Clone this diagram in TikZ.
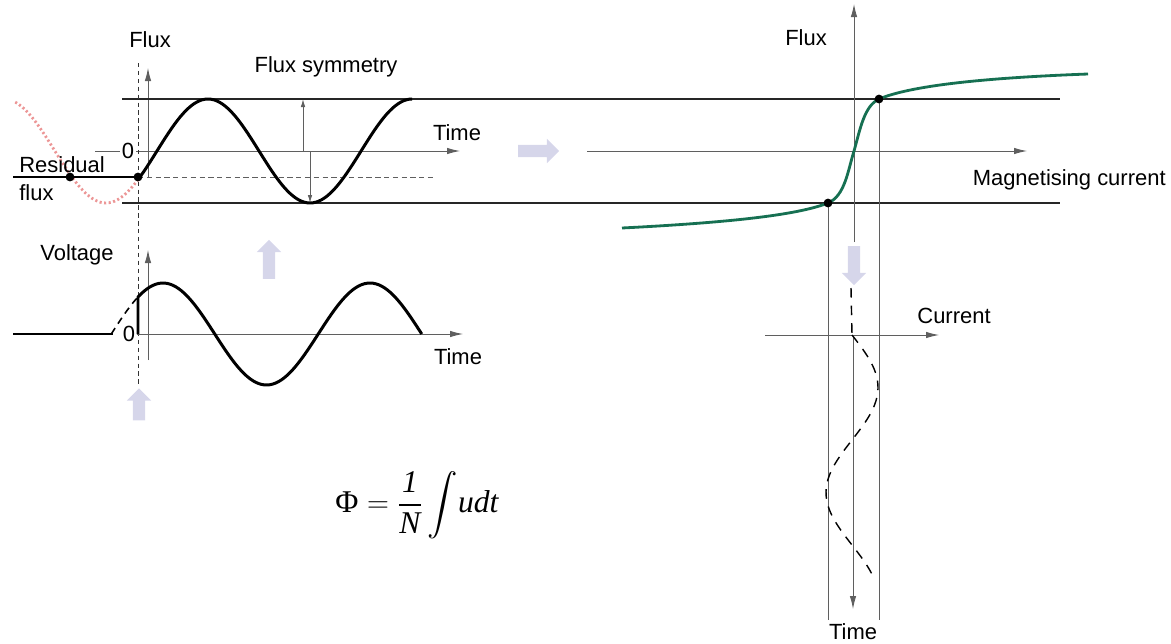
\documentclass[tikz,border=0pt]{standalone}
\usepackage{amsmath}
\usepackage{fontspec}
\setmainfont{Liberation Sans}
\newfontfamily\formfont{Liberation Serif}
\usetikzlibrary{arrows.meta,positioning,calc,shapes.arrows}
\definecolor{curvegreen}{RGB}{22,112,82}
\definecolor{softlilac}{RGB}{214,214,234}
\definecolor{residred}{RGB}{236,150,150}
\definecolor{axisgray}{RGB}{95,95,95}

\begin{document}
\begin{tikzpicture}[
  x=0.2mm, y=-0.2mm,
  font=\fontsize{12.5}{15}\selectfont,
  axis/.style={draw=axisgray, line width=0.5pt, -{Latex[length=2.6mm,width=1.3mm]}},
  smallarr/.style={draw=axisgray, line width=0.5pt, -{Latex[length=1.6mm,width=0.9mm]}},
  level/.style={draw=black!85, line width=1.1pt},
  guide/.style={draw=axisgray, line width=0.5pt},
  wave/.style={line width=1.7pt, line join=round},
  bigarrow/.style={single arrow, fill=softlilac, draw=none, inner sep=1.15mm, single arrow head extend=1.2mm, single arrow tip angle=90},
  zero/.style={fill=white, inner sep=1pt},
  dot/.style={circle, fill=black, inner sep=0pt, minimum size=5pt}
]
\useasboundingbox (0,0) rectangle (1171,643);

% left flux panel
\coordinate (fluxorig) at (148,151);
\coordinate (fluxtop) at (148,68);
\coordinate (fluxleft) at (95,151);
\coordinate (fluxend) at (460,151);
\coordinate (res0) at (13,177);
\coordinate (resend) at (436,177);
\coordinate (switchtop) at (138,63);
\coordinate (switchbot) at (138,387);
\coordinate (hiL) at (122,99);
\coordinate (hiR) at (1060,99);
\coordinate (loL) at (122,203);
\coordinate (loR) at (1060,203);

\draw[axis] (148,177) -- (fluxtop);
\draw[axis] (fluxleft) -- (fluxend);
\node[zero] (fzero) at (128,151) {0};
\draw[level] (hiL) -- (hiR);
\draw[level] (loL) -- (loR);
\draw[guide, dashed, dash pattern=on 3pt off 2pt] (138,177) -- (resend);
\draw[black!80, line width=0.5pt, dash pattern=on 2.5pt off 2pt] (switchtop) -- (switchbot);

\draw[residred, line width=1.6pt, dash pattern=on 1.2pt off 1.4pt]
  plot[domain=-160:60, samples=45, smooth] ({208+(\x-180)*0.567},{151+52*cos(\x)});
\draw[wave] (res0) -- (138,177);
\draw[wave] plot[domain=60:540, samples=97, smooth] ({208+(\x-180)*0.567},{151+52*cos(\x)});
\node[dot] (resdot) at (70,177) {};
\node[dot] (swdot) at (138,177) {};

\draw[smallarr] (303,151) -- (303,99);
\draw[smallarr] (310,151) -- (310,203);

\node (fluxlbl) at (150,40) {Flux};
\node (symlbl) at (326,67) {Flux symmetry};
\node (timelbl) at (457,133) {Time};
\node[anchor=west, inner sep=0pt] (reslbl) at (19,165) {Residual};
\node[anchor=west, inner sep=0pt] (reslbl2) at (19,193) {flux};

% voltage panel
\draw[axis] (148,360) -- (148,250);
\draw[axis] (137,334) -- (463,334);
\node[zero] (vzero) at (129,334) {0};
\draw[wave] (13,334) -- (113,334);
\draw[line width=0.9pt, dash pattern=on 4pt off 3pt]
  plot[domain=0:47, samples=12, smooth] ({163+(\x-90)*0.575},{334-51*sin(\x)});
\draw[wave] (138,334) -- (138,{334-51*sin(47)})
  -- plot[domain=47:540, samples=100, smooth] ({163+(\x-90)*0.575},{334-51*sin(\x)});
\node (voltlbl) at (77,255) {Voltage};
\node (timelbl2) at (458,357) {Time};

% block arrows
\node[bigarrow, minimum height=8.2mm] (toright) at (535.5,151) {};
\node[bigarrow, minimum height=7.8mm, shape border rotate=90] (toflux) at (269,262.5) {};
\node[bigarrow, minimum height=6.4mm, shape border rotate=90] (toswitch) at (139,407.5) {};
\node[bigarrow, minimum height=7.8mm, shape border rotate=270] (tocurrent) at (854,262.5) {};

% magnetising curve
\draw[axis] (587,151) -- (1027,151);
\draw[axis] (854,242) -- (854,4);
\draw[guide] (828,203) -- (828,620);
\draw[guide] (879,99) -- (879,620);
\draw[curvegreen, line width=1.6pt]
  (622,228) .. controls (740,222) and (800,214) .. (828,203)
  .. controls (845,196) and (848,170) .. (854,151)
  .. controls (860,130) and (864,106) .. (879,99)
  .. controls (910,86) and (980,78) .. (1088,74);
\node[dot] (lodot) at (828,203) {};
\node[dot] (hidot) at (879,99) {};
\node (fluxlbl2) at (806,38) {Flux};
\node[anchor=east, inner sep=0pt] (maglbl) at (1166,180) {Magnetising current};

% current panel
\draw[axis] (765,335) -- (939,335);
\draw[axis] (853,335) -- (853,609);
\draw[line width=0.8pt, dash pattern=on 5.5pt off 4.5pt]
  (851,288) -- (852,335)
  plot[domain=0:243, samples=60, smooth] ({852+26*sin(\x*1.7143)},{335+\x});
\node (curlbl) at (954,316) {Current};
\node (timelbl3) at (853,632) {Time};

% formula
\node (law) at (417,505) {\fontsize{18}{21}\selectfont
  $\displaystyle \mbox{\formfont Φ} = \frac{\mbox{\formfont\itshape 1}}{\mbox{\formfont\itshape N}}\int\!\mbox{\formfont\itshape udt}$};
\end{tikzpicture}
\end{document}
